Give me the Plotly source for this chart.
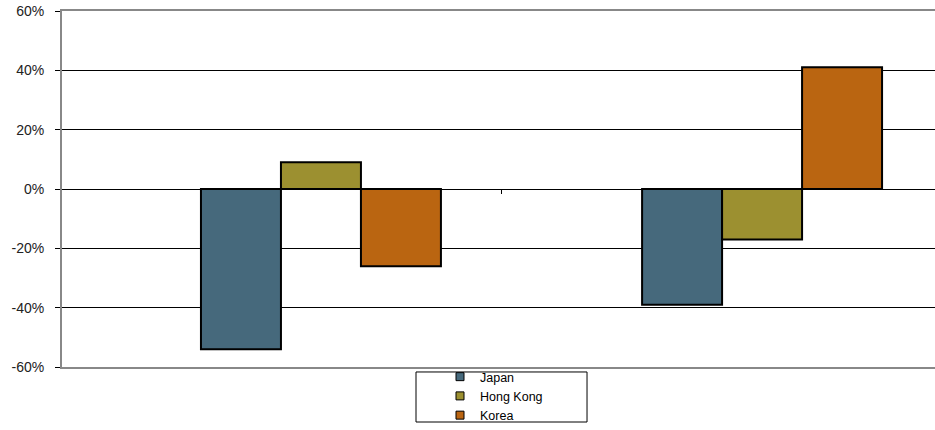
import plotly.graph_objects as go

categories = [0, 1]
series_names = ["Japan", "Hong Kong", "Korea"]
japan = [-0.54, -0.39]
hong_kong = [0.09, -0.17]
korea = [-0.26, 0.41]
y_ticks = [-0.6, -0.4, -0.2, 0.0, 0.2, 0.4, 0.6]
y_tick_labels = ["-60%", "-40%", "-20%", "0%", "20%", "40%", "60%"]
colors = ["#46697C", "#9C9030", "#BA6511"]

fig = go.Figure()
for name, vals, c in zip(series_names, [japan, hong_kong, korea], colors):
    fig.add_trace(go.Bar(x=categories, y=vals, name=name, showlegend=False,
                         marker=dict(color=c, line=dict(color="#000000", width=2))))
# legend-only entries with small square symbols
for name, c in zip(series_names, colors):
    fig.add_trace(go.Scatter(x=[None], y=[None], name=name, mode="markers",
                             marker=dict(symbol="square", size=8, color=c,
                                         line=dict(color="#000000", width=1))))

# invisible trace to carry the secondary (zero-line) category tick axis
fig.add_trace(go.Scatter(x=[0.41], y=[0], xaxis="x2", mode="markers",
                         marker=dict(opacity=0), showlegend=False, hoverinfo="skip"))

# legend frame
fig.add_shape(type="rect", xref="paper", yref="paper",
              x0=0.4055, x1=0.6014, y0=-0.1545, y1=-0.014,
              line=dict(color="#000000", width=1), fillcolor="white", layer="above")

fig.update_layout(
    width=935, height=430,
    margin=dict(l=62, r=0, t=11, b=63, autoexpand=False),
    paper_bgcolor="white", plot_bgcolor="white",
    barmode="group", bargap=0.456, bargroupgap=0,
    font=dict(family="Liberation Sans, Arial, sans-serif", size=13, color="#222222"),
    xaxis=dict(range=[-0.587, 1.392], showticklabels=False, ticks="",
               showgrid=False, zeroline=False, showline=True, mirror=True,
               linecolor="#888888", linewidth=2),
    xaxis2=dict(overlaying="x", matches="x", anchor="free", position=0.5,
                range=[-0.587, 1.392], tickvals=[0.41], ticks="outside", ticklen=4,
                tickcolor="#000000", tickwidth=1, showticklabels=False,
                showgrid=False, zeroline=False, showline=False),
    yaxis=dict(range=[-0.6, 0.6], tickvals=y_ticks, ticktext=y_tick_labels,
               ticks="outside", ticklen=5, tickcolor="#000000",
               showgrid=True, gridcolor="#000000", gridwidth=1, zeroline=False,
               showline=True, linecolor="#888888", linewidth=2,
               ticklabelstandoff=8, tickfont=dict(size=14)),
    legend=dict(x=0.4055, xanchor="left", y=0.014, yanchor="top",
                borderwidth=0, bgcolor="rgba(0,0,0,0)", indentation=24,
                font=dict(size=12.5, color="#000000"), tracegroupgap=0,
                itemwidth=30),
    showlegend=True,
)

fig.write_html("out.html", config={"displayModeBar": False},
               post_script="document.body.style.margin='0';document.body.style.overflow='hidden';")
